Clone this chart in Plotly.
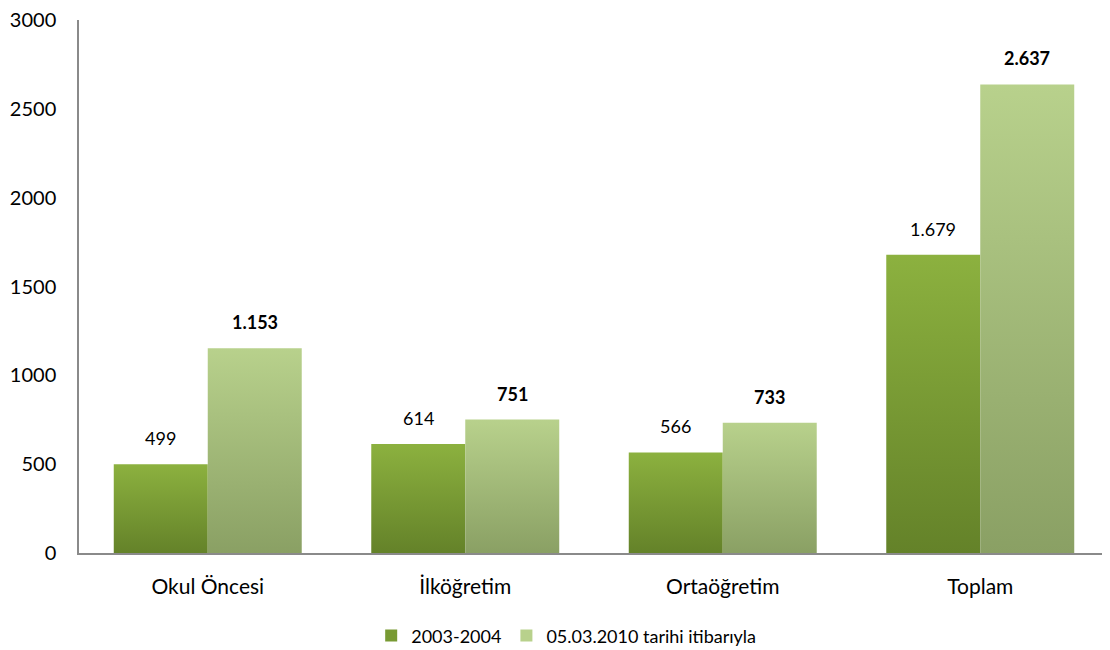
import plotly.graph_objects as go

categories = ["Okul Öncesi", "İlköğretim", "Ortaöğretim", "Toplam"]
series_names = ["2003-2004", "05.03.2010 tarihi itibarıyla"]
values_2003 = [499, 614, 566, 1679]
values_2010 = [1153, 751, 733, 2637]
y_ticks = [0, 500, 1000, 1500, 2000, 2500, 3000]

FONT = "Lato"
BAR_W = 0.365
dark = ("#648229", "#8CB13F")   # bottom, top
light = ("#8AA064", "#B8D18C")


def fmt(v):
    return f"{v:,}".replace(",", ".")


fig = go.Figure()

series = [(values_2003, dark, -1, False), (values_2010, light, 0, True)]
for s_idx, (vals, cols, off, bold) in enumerate(series):
    for i, v in enumerate(vals):
        x0 = i + off * BAR_W
        x1 = x0 + BAR_W
        fig.add_trace(go.Scatter(
            x=[x0, x1, x1, x0, x0],
            y=[0, 0, v, v, 0],
            mode="lines",
            fill="toself",
            fillgradient=dict(type="vertical",
                              colorscale=[[0, cols[0]], [1, cols[1]]]),
            line=dict(width=0, color="rgba(0,0,0,0)"),
            name=series_names[s_idx],
            showlegend=False,
            hoverinfo="skip",
        ))
        txt = fmt(v)
        fig.add_annotation(
            x=(x0 + x1) / 2, y=v, text=f"<b>{txt}</b>" if bold else txt,
            showarrow=False, yanchor="bottom", yshift=13,
            font=dict(family=FONT, size=18, color="#000000"),
        )
    # legend entry (square swatch)
    fig.add_trace(go.Bar(
        x=[None], y=[None], name=series_names[s_idx],
        marker=dict(color=cols[1] if s_idx == 1 else "#789A33",
                    line=dict(width=0)),
        showlegend=True, hoverinfo="skip",
    ))

fig.update_layout(
    width=1110, height=650,
    margin=dict(l=71, r=9, t=12, b=105),
    paper_bgcolor="white", plot_bgcolor="white",
    font=dict(family=FONT, color="#000000"),
    showlegend=True,
    legend=dict(orientation="h", x=0.473, xanchor="center",
                xref="paper", yref="container", y=0.034,
                yanchor="middle", font=dict(family=FONT, size=18),
                itemwidth=30, tracegroupgap=0),
    xaxis=dict(range=[-0.5, 3.5], tickvals=list(range(len(categories))),
               ticktext=categories, showline=True, linecolor="#8A8A8A",
               linewidth=1.5, ticks="", showgrid=False, zeroline=False,
               tickfont=dict(family=FONT, size=21), ticklabelstandoff=14,
               automargin=False, fixedrange=True),
    yaxis=dict(range=[0, 3000], tickvals=y_ticks, showline=True,
               linecolor="#8A8A8A", linewidth=1.5, ticks="", showgrid=False,
               zeroline=False, tickfont=dict(family=FONT, size=20),
               ticklabelstandoff=17, ticklabeloverflow="allow",
               automargin=False, fixedrange=True),
)

fig.write_html("out.html")
